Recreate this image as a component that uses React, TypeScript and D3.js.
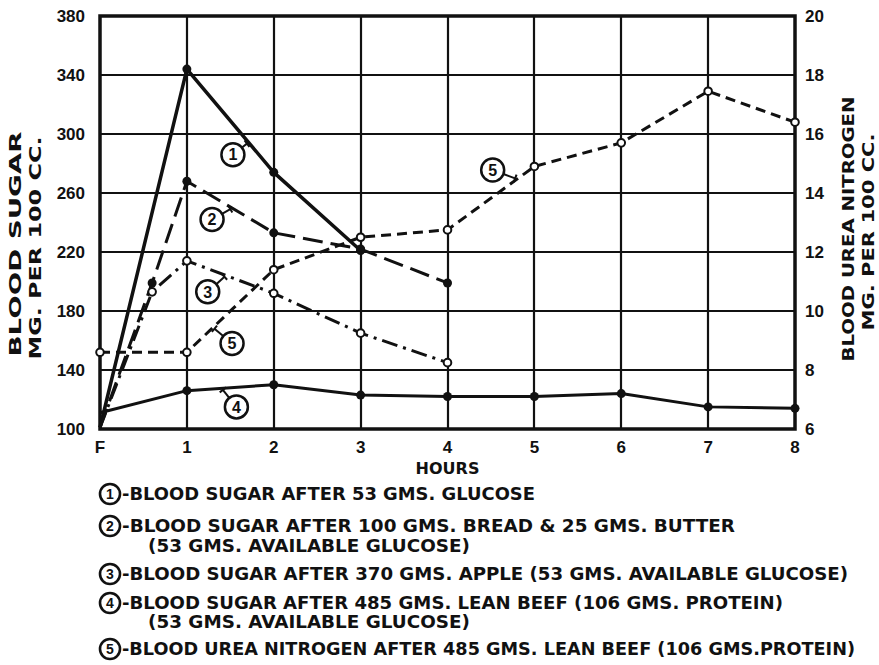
import React, { useEffect, useRef } from 'react';
import * as d3 from 'd3';

const WIDTH = 879;
const HEIGHT = 665;

const hourTicks = [0, 1, 2, 3, 4, 5, 6, 7, 8];
const hourLabels = ['F', '1', '2', '3', '4', '5', '6', '7', '8'];
const sugarTicks = [100, 140, 180, 220, 260, 300, 340, 380];
const ureaTicks = [6, 8, 10, 12, 14, 16, 18, 20];

// 1 - glucose
const hours1 = [0, 1, 2, 3];
const sugar1 = [101, 344, 274, 221];
// 2 - bread & butter
const hours2 = [0, 0.6, 1, 2, 3, 4];
const sugar2 = [101, 199, 268, 233, 222, 199];
// 3 - apple
const hours3 = [0, 0.6, 1, 2, 3, 4];
const sugar3 = [101, 193, 214, 192, 165, 145];
// 4 - lean beef, blood sugar
const hours4 = [0, 1, 2, 3, 4, 5, 6, 7, 8];
const sugar4 = [111, 126, 130, 123, 122, 122, 124, 115, 114];
// 5 - lean beef, blood urea nitrogen (right axis)
const hours5 = [0, 1, 2, 3, 4, 5, 6, 7, 8];
const urea5 = [8.6, 8.6, 11.4, 12.5, 12.75, 14.9, 15.7, 17.45, 16.4];

const legendLines = [
  { num: '1', text: '-BLOOD SUGAR AFTER 53 GMS. GLUCOSE' },
  { num: '2', text: '-BLOOD SUGAR AFTER 100 GMS. BREAD & 25 GMS. BUTTER' },
  { num: '', text: '(53 GMS. AVAILABLE GLUCOSE)' },
  { num: '3', text: '-BLOOD SUGAR AFTER 370 GMS. APPLE  (53 GMS. AVAILABLE GLUCOSE)' },
  { num: '4', text: '-BLOOD SUGAR AFTER 485 GMS. LEAN BEEF  (106 GMS. PROTEIN)' },
  { num: '', text: '(53 GMS. AVAILABLE GLUCOSE)' },
  { num: '5', text: '-BLOOD UREA NITROGEN AFTER 485 GMS. LEAN BEEF (106 GMS.PROTEIN)' },
];
const legendY = [494, 526, 546, 574, 603, 622, 649];
const legendEnd = [535, 735, 470, 848, 783, 470, 855];

const interp = (hs: number[], vs: number[], h: number) => {
  for (let i = 0; i < hs.length - 1; i++) {
    if (h >= hs[i] && h <= hs[i + 1]) {
      const t = (h - hs[i]) / (hs[i + 1] - hs[i]);
      return vs[i] + t * (vs[i + 1] - vs[i]);
    }
  }
  return vs[vs.length - 1];
};

const FONT = '"DejaVu Sans", sans-serif';
const NUMFONT = '"Liberation Sans", Arial, sans-serif';

export default function App() {
  const ref = useRef<SVGSVGElement>(null);

  useEffect(() => {
    const svg = d3.select(ref.current);
    svg.selectAll('*').remove();

    const x = d3.scaleLinear().domain([0, 8]).range([100, 795]);
    const yL = d3.scaleLinear().domain([100, 380]).range([429, 16]);
    const yR = d3.scaleLinear().domain([6, 20]).range([429, 16]);

    svg.append('rect').attr('width', WIDTH).attr('height', HEIGHT).attr('fill', 'white');

    // grid
    const grid = svg.append('g').attr('stroke', '#111').attr('stroke-width', 2.2);
    hourTicks.slice(1, -1).forEach((h) => {
      const gx = Math.round(x(h));
      grid.append('line').attr('x1', gx).attr('x2', gx).attr('y1', yL(100)).attr('y2', yL(380));
    });
    sugarTicks.slice(1, -1).forEach((v) => {
      const gy = Math.round(yL(v));
      grid.append('line').attr('x1', x(0)).attr('x2', x(8)).attr('y1', gy).attr('y2', gy);
    });
    svg.append('rect')
      .attr('x', x(0)).attr('y', yL(380))
      .attr('width', x(8) - x(0)).attr('height', yL(100) - yL(380))
      .attr('fill', 'none').attr('stroke', '#111').attr('stroke-width', 3.5);

    // tick labels
    const tl = svg.append('g').attr('font-family', NUMFONT).attr('font-weight', 'bold')
      .attr('font-size', 17).attr('fill', '#111');
    sugarTicks.forEach((v) => {
      tl.append('text').attr('x', 85).attr('y', yL(v)).attr('dy', '0.36em')
        .attr('text-anchor', 'end').text(v);
    });
    ureaTicks.forEach((v) => {
      tl.append('text').attr('x', 805).attr('y', yR(v)).attr('dy', '0.36em')
        .attr('text-anchor', 'start').text(v);
    });
    hourTicks.forEach((h, i) => {
      tl.append('text').attr('x', x(h)).attr('y', 447).attr('dy', '0.36em')
        .attr('text-anchor', 'middle').text(hourLabels[i]);
    });

    // axis titles
    const tt = svg.append('g').attr('font-family', FONT).attr('font-weight', 'bold')
      .attr('font-size', 16).attr('fill', '#111');
    tt.append('text').attr('x', (x(0) + x(8)) / 2).attr('y', 468).attr('dy', '0.36em')
      .attr('text-anchor', 'middle').text('HOURS');
    const rot = (cx: number, cy: number, s: string, len: number) => {
      tt.append('text')
        .attr('transform', `translate(${cx},${cy}) rotate(-90)`)
        .attr('dy', '0.36em').attr('text-anchor', 'middle')
        .attr('textLength', len).attr('lengthAdjust', 'spacingAndGlyphs')
        .text(s);
    };
    rot(15, 244, 'BLOOD SUGAR', 225);
    rot(35, 248, 'MG. PER 100 CC.', 223);
    rot(848, 229, 'BLOOD UREA NITROGEN', 265);
    rot(868, 232, 'MG. PER 100 CC.', 197);

    // series
    const series = [
      { hs: hours1, vs: sugar1, y: yL, dash: null, w: 3.5, filled: true },
      { hs: hours2, vs: sugar2, y: yL, dash: '20 8', w: 3, filled: true },
      { hs: hours3, vs: sugar3, y: yL, dash: '16 6 3 6', w: 3, filled: false },
      { hs: hours4, vs: sugar4, y: yL, dash: null, w: 3, filled: true },
      { hs: hours5, vs: urea5, y: yR, dash: '10 6', w: 3, filled: false },
    ];
    series.forEach((s) => {
      const pts: [number, number][] = s.hs.map((h, i) => [x(h), s.y(s.vs[i])]);
      svg.append('path')
        .attr('d', d3.line()(pts))
        .attr('fill', 'none').attr('stroke', '#111').attr('stroke-width', s.w)
        .attr('stroke-linejoin', 'round')
        .attr('stroke-dasharray', s.dash);
    });
    series.forEach((s, si) => {
      s.hs.forEach((h, i) => {
        if (h === 0 && si !== 4) return;
        svg.append('circle')
          .attr('cx', x(h)).attr('cy', s.y(s.vs[i]))
          .attr('r', s.filled ? 4.5 : 3.8)
          .attr('fill', s.filled ? '#111' : 'white')
          .attr('stroke', '#111').attr('stroke-width', s.filled ? 0 : 2);
      });
    });

    // curve labels with leaders
    const labels = [
      { num: '1', h: 1.53, v: yL(286), lh: 1.71, s: 0 },
      { num: '2', h: 1.29, v: yL(242), lh: 1.52, s: 1 },
      { num: '3', h: 1.24, v: yL(193), lh: 1.45, s: 2 },
      { num: '4', h: 1.57, v: yL(115), lh: 1.4, s: 3 },
      { num: '5', h: 1.52, v: yL(158), lh: 1.3, s: 4 },
      { num: '5', h: 4.52, v: yR(14.78), lh: 4.8, s: 4 },
    ];
    const R = 11.5;
    labels.forEach((l) => {
      const s = series[l.s];
      const cx = x(l.h);
      const cy = l.v;
      const ex = x(l.lh);
      const ey = s.y(interp(s.hs, s.vs, l.lh));
      const dx = ex - cx;
      const dy = ey - cy;
      const d = Math.hypot(dx, dy);
      const ux = dx / d;
      const uy = dy / d;
      svg.append('line')
        .attr('x1', cx + ux * R).attr('y1', cy + uy * R)
        .attr('x2', ex - ux * 2).attr('y2', ey - uy * 2)
        .attr('stroke', '#111').attr('stroke-width', 2);
      svg.append('line')
        .attr('x1', ex - ux * 2 - uy * 4).attr('y1', ey - uy * 2 + ux * 4)
        .attr('x2', ex - ux * 2 + uy * 4).attr('y2', ey - uy * 2 - ux * 4)
        .attr('stroke', '#111').attr('stroke-width', 2);
      svg.append('circle').attr('cx', cx).attr('cy', cy).attr('r', R)
        .attr('fill', 'white').attr('stroke', '#111').attr('stroke-width', 2.5);
      svg.append('text').attr('x', cx).attr('y', cy).attr('dy', '0.36em')
        .attr('text-anchor', 'middle').attr('font-family', NUMFONT)
        .attr('font-weight', 'bold').attr('font-size', 16).attr('fill', '#111')
        .text(l.num);
    });

    // legend
    const lg = svg.append('g').attr('font-family', FONT).attr('font-weight', 'bold')
      .attr('font-size', 18).attr('fill', '#111');
    legendLines.forEach((l, i) => {
      const y = legendY[i];
      const start = l.num ? 122 : 148;
      if (l.num) {
        lg.append('circle').attr('cx', 110).attr('cy', y).attr('r', 10)
          .attr('fill', 'white').attr('stroke', '#111').attr('stroke-width', 2.6);
        lg.append('text').attr('x', 110).attr('y', y).attr('dy', '0.36em')
          .attr('text-anchor', 'middle').attr('font-family', NUMFONT)
          .attr('font-size', 14).text(l.num);
      }
      lg.append('text').attr('x', start).attr('y', y).attr('dy', '0.36em')
        .attr('textLength', legendEnd[i] - start).attr('lengthAdjust', 'spacingAndGlyphs')
        .text(l.text);
    });
  }, []);

  return (
    <svg
      ref={ref}
      width={WIDTH}
      height={HEIGHT}
      style={{ position: 'absolute', left: 0, top: 0 }}
    ></svg>
  );
}
